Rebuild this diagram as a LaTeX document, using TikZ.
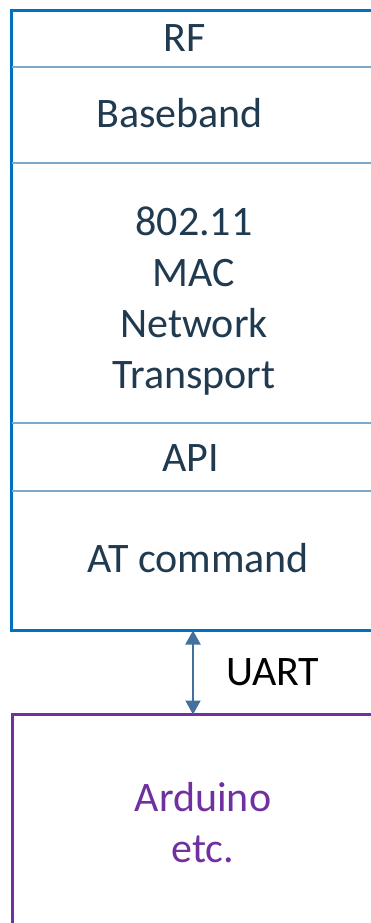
\documentclass[tikz,border=0pt]{standalone}
\usepackage{fontspec}
\setmainfont{Carlito}
\usetikzlibrary{arrows.meta,positioning}
\definecolor{stackblue}{HTML}{0070C0}
\definecolor{layerline}{HTML}{7FA6CB}
\definecolor{layertext}{HTML}{203A50}
\definecolor{linkblue}{HTML}{41719C}
\definecolor{hostpurple}{HTML}{7030A0}
\tikzstyle{box}=[draw, line width=3pt, inner sep=0pt, outer sep=0pt, anchor=north west]
\tikzstyle{layer}=[text=layertext, align=center, inner sep=0pt, anchor=base, font=\fontsize{42}{51}\selectfont]
\tikzstyle{divider}=[draw=layerline, line width=2pt]
\tikzstyle{link}=[draw=linkblue, line width=2pt, {Triangle[width=15pt,length=14pt]}-{Triangle[width=15pt,length=14pt]}]

\begin{document}
\begin{tikzpicture}[x=1pt,y=-1pt]
	\useasboundingbox (0,0) rectangle (371,923);
	\clip (0,0) rectangle (371,923);
%
	\node[box, draw=stackblue, minimum width=363pt, minimum height=620pt] (stack) at (11.5,10.5) {};
	\node[box, draw=hostpurple, minimum width=361pt, minimum height=260pt] (host) at (12.5,714.5) {};
%
	\coordinate (d1) at (11.5,67);
	\coordinate (d2) at (11.5,162.5);
	\coordinate (d3) at (11.5,423);
	\coordinate (d4) at (11.5,491);
	\foreach \d in {d1,d2,d3,d4}
		\draw[divider] (\d) -- (\d -| stack.east);
%
	\node[layer] (rf) at (184.5,52) {RF};
	\node[layer] (baseband) at (179.5,128) {Baseband};
	\node[layer] (net) at (194,388) {802.11\\MAC\\Network\\Transport};
	\node[layer] (api) at (190.5,471) {API};
	\node[layer] (atcmd) at (198,572) {AT command};
	\node[layer, text=hostpurple] (arduino) at (203,862) {Arduino\\etc.};
%
	\draw[link] (stack.south) -- (host.north);
	\node[layer, text=black, anchor=base west] (uart) at (226,685) {UART};
\end{tikzpicture}
\end{document}
